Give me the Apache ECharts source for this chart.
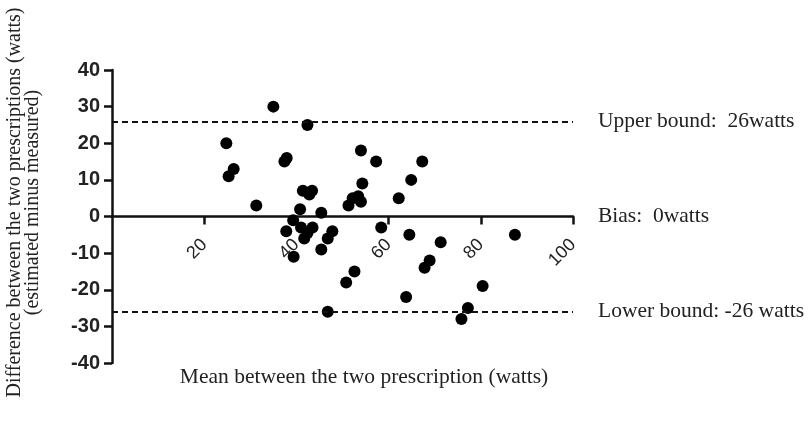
<!DOCTYPE html>
<html>
<head>
<meta charset="utf-8">
<script src="https://cdn.jsdelivr.net/npm/echarts@6/dist/echarts.min.js"></script>
<style>
  html, body { margin: 0; padding: 0; background: #fff; }
  #chart { width: 811px; height: 425px; }
</style>
</head>
<body>
<div id="chart"></div>
<script>
// mean of the two prescriptions (x) and their difference (y)
const meanValues = [35, 42.4, 24.8, 26.4, 25.3, 31.3, 37.4, 37.9, 41.4, 43.4,
  42.8, 40.8, 45.4, 39.3, 37.8, 41, 43.5, 42.4, 41.7, 39.4,
  47.8, 46.8, 45.4, 52.6, 50.8, 46.8, 58.4, 54, 57.3, 54.3,
  51.3, 52.2, 53.4, 54, 67.3, 64.9, 62.2, 64.5, 71.3, 68.9,
  67.8, 63.8, 87.4, 80.4, 77.2, 75.8]
const diffValues = [30, 25, 20, 13, 11, 3, 15, 16, 7, 7,
  6, 2, 1, -1, -4, -3, -3, -4.5, -6, -11,
  -4, -6, -9, -15, -18, -26, -3, 18, 15, 9,
  3, 5, 5.5, 4, 15, 10, 5, -5, -7, -12,
  -14, -22, -5, -19, -25, -28]

const xTicks = [0, 20, 40, 60, 80, 100]
const yTicks = [-40, -30, -20, -10, 0, 10, 20, 30, 40]

const upperBound = 26
const bias = 0
const lowerBound = -26
const boundLabels = ['Upper bound:  26watts', 'Bias:  0watts', 'Lower bound: -26 watts']

let points = meanValues.map((x, i) => [x, diffValues[i]])

let serif = '"Liberation Serif", "Times New Roman", serif'
let sans = '"Liberation Sans", Arial, sans-serif'

let chart = echarts.init(document.getElementById('chart'), null, { renderer: 'canvas' })

let labelStyle = {
  show: true,
  position: 'end',
  distance: 25,
  fontFamily: serif,
  fontSize: 21.5,
  color: '#222',
  formatter: (p) => p.name
}

let options = {
  animation: false,
  grid: {
    left: 112,
    right: 238,
    top: 70,
    bottom: 62,
    outerBoundsMode: 'none',
    containLabel: false,
  },
  xAxis: {
    type: 'value',
    min: xTicks[0],
    max: xTicks[xTicks.length - 1],
    interval: 20,
    name: 'Mean between the two prescription (watts)',
    nameLocation: 'middle',
    nameGap: 3,
    nameTextStyle: {
      fontFamily: serif,
      fontSize: 21.5,
      color: '#222',
      padding: [0, 0, 0, 43],
    },
    axisLine: {
      onZero: true,
      lineStyle: { color: '#111', width: 2.5 }
    },
    axisTick: {
      show: true,
      length: 8,
      lineStyle: { color: '#111', width: 2.5 }
    },
    axisLabel: {
      rotate: 45,
      // labels stay at the grid bottom, so pull them up to the zero line
      margin: -121,
      showMinLabel: false,
      fontFamily: sans,
      fontSize: 18,
      color: '#222',
    },
    splitLine: { show: false },
  },
  yAxis: {
    type: 'value',
    min: yTicks[0],
    max: yTicks[yTicks.length - 1],
    interval: 10,
    name: 'Difference between the two prescriptions (watts)\n(estimated minus measured)',
    nameLocation: 'middle',
    nameRotate: 90,
    nameGap: 70,
    nameTextStyle: {
      fontFamily: serif,
      fontSize: 20,
      lineHeight: 18,
      color: '#222',
      padding: [0, 0, 0, 28],
    },
    axisLine: {
      show: true,
      lineStyle: { color: '#111', width: 2.5 }
    },
    axisTick: {
      show: true,
      length: 8,
      lineStyle: { color: '#111', width: 2.5 }
    },
    axisLabel: {
      margin: 12,
      fontFamily: sans,
      fontWeight: 'bold',
      fontSize: 20,
      color: '#222',
    },
    splitLine: { show: false },
  },
  series: [{
    type: 'scatter',
    data: points,
    symbol: 'circle',
    symbolSize: 12,
    itemStyle: { color: '#000', opacity: 1 },
    markLine: {
      silent: true,
      symbol: ['none', 'none'],
      label: labelStyle,
      lineStyle: { color: '#111', type: [6, 4], width: 2 },
      data: [
        { yAxis: upperBound, name: boundLabels[0], label: { padding: [0, 0, 12, 0] } },
        { yAxis: bias, name: boundLabels[1], lineStyle: { width: 0 }, label: { padding: [0, 0, 8, 0] } },
        { yAxis: lowerBound, name: boundLabels[2] },
      ]
    }
  }]
}

chart.setOption(options)
</script>
</body>
</html>
